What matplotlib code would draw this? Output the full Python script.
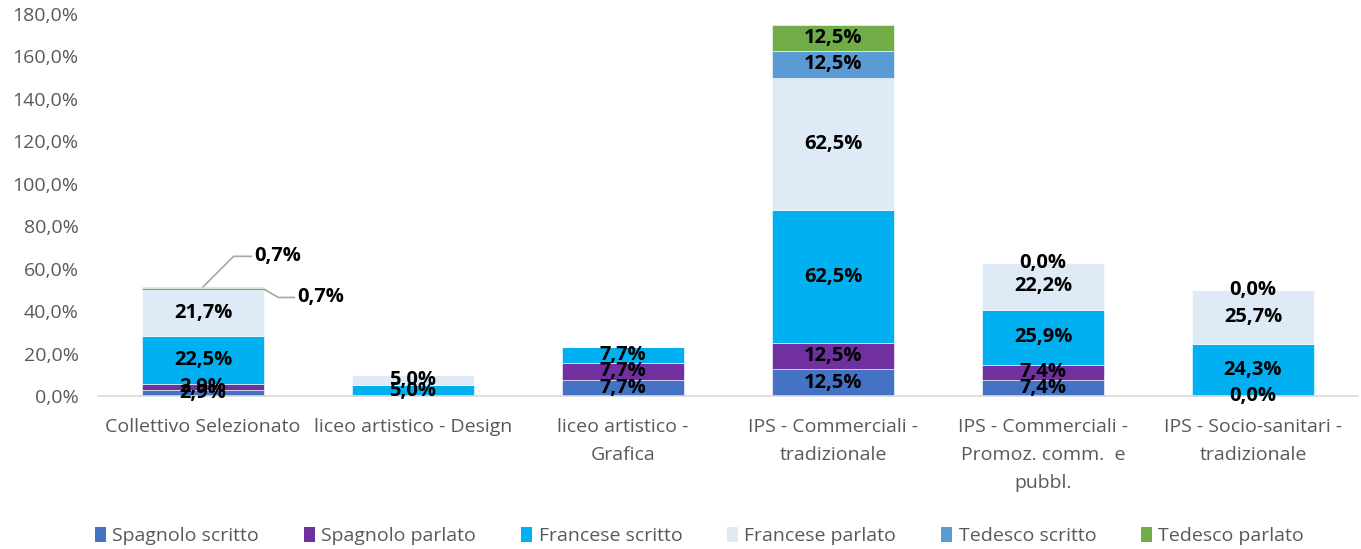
import matplotlib
matplotlib.use("Agg")
import matplotlib.pyplot as plt
from matplotlib.patches import Patch
import numpy as np

categories = [
    "Collettivo Selezionato",
    "liceo artistico - Design",
    "liceo artistico -\nGrafica",
    "IPS - Commerciali -\ntradizionale",
    "IPS - Commerciali -\nPromoz. comm.  e\npubbl.",
    "IPS - Socio-sanitari -\ntradizionale",
]
series_names = ["Spagnolo scritto", "Spagnolo parlato", "Francese scritto",
                "Francese parlato", "Tedesco scritto", "Tedesco parlato"]
spagnolo_scritto = [2.9, 0.0, 7.7, 12.5, 7.4, 0.0]
spagnolo_parlato = [2.9, 0.0, 7.7, 12.5, 7.4, 0.0]
francese_scritto = [22.5, 5.0, 7.7, 62.5, 25.9, 24.3]
francese_parlato = [21.7, 5.0, 0.0, 62.5, 22.2, 25.7]
tedesco_scritto = [0.7, 0.0, 0.0, 12.5, 0.0, 0.0]
tedesco_parlato = [0.7, 0.0, 0.0, 12.5, 0.0, 0.0]
values = [spagnolo_scritto, spagnolo_parlato, francese_scritto,
          francese_parlato, tedesco_scritto, tedesco_parlato]
# which data labels Excel shows (1 = shown)
show_labels = [
    [1, 0, 1, 1, 1, 1],
    [1, 0, 1, 1, 1, 0],
    [1, 1, 1, 1, 1, 1],
    [1, 1, 0, 1, 1, 1],
    [0, 0, 0, 1, 1, 1],
    [0, 0, 0, 1, 0, 0],
]
colors = ["#4472C4", "#7030A0", "#00B0F0", "#DEEBF7", "#5B9BD5", "#70AD47"]

plt.rcParams["font.family"] = ["Open Sans", "DejaVu Sans"]

fig = plt.figure(figsize=(13.61, 5.49), dpi=100)
ax = fig.add_axes([0.072, 0.2787, 0.9258, 0.6958])

x = np.arange(len(categories))
width = 0.58
lab_size = 14.5
bottom = np.zeros(len(categories))
for name, vals, col, show in zip(series_names, values, colors, show_labels):
    vals = np.array(vals)
    ax.bar(x, vals, width, bottom=bottom, color=col, label=name,
           edgecolor="white", linewidth=0.4)
    for i, v in enumerate(vals):
        if not show[i]:
            continue
        if i == 0 and name.startswith("Tedesco"):
            continue
        ax.text(x[i], bottom[i] + v / 2, f"{v:.1f}%".replace(".", ","),
                ha="center", va="center", fontsize=lab_size, fontweight="bold",
                color="black")
    bottom += vals

# leader-line labels on first bar (Tedesco)
top_scritto = sum(v[0] for v in values[:4]) + tedesco_scritto[0] / 2
top_parlato = sum(v[0] for v in values[:5]) + tedesco_parlato[0]
line_kw = dict(arrowstyle="-", color="#a6a6a6", lw=1.2, shrinkA=0, shrinkB=0,
               relpos=(0, 0.5), connectionstyle="angle,angleA=0,angleB=45,rad=0")
ax.annotate(f"{tedesco_parlato[0]:.1f}%".replace(".", ","),
            xy=(x[0], top_parlato), xytext=(37, 22), textcoords="offset points",
            ha="left", va="center", fontsize=lab_size, fontweight="bold",
            arrowprops=line_kw)
line_kw2 = dict(line_kw, connectionstyle="angle,angleA=0,angleB=-30,rad=0")
ax.annotate(f"{tedesco_scritto[0]:.1f}%".replace(".", ","),
            xy=(x[0] + width / 2, top_scritto), xytext=(24, -6),
            textcoords="offset points", ha="left", va="center", fontsize=lab_size,
            fontweight="bold", arrowprops=line_kw2)

ax.set_xlim(-0.5, len(categories) - 0.5)
ax.set_ylim(0, 180)
ax.set_yticks(np.arange(0, 181, 20))
ax.set_yticklabels([f"{t:.1f}%".replace(".", ",") for t in np.arange(0, 181, 20)])
ax.set_xticks(x)
ax.set_xticklabels(categories, linespacing=1.7)
ax.tick_params(axis="both", length=0, labelsize=14, labelcolor="#595959")
ax.tick_params(axis="x", pad=16)
ax.tick_params(axis="y", pad=14)
for s in ["top", "right", "left"]:
    ax.spines[s].set_visible(False)
ax.spines["bottom"].set_color("#d9d9d9")
ax.spines["bottom"].set_linewidth(1.2)

handles = [Patch(facecolor=c, label=n) for c, n in zip(colors, series_names)]
leg = fig.legend(handles=handles, loc="lower center", bbox_to_anchor=(0.514, -0.025),
                 ncol=6, frameon=False, fontsize=14, handlelength=0.55,
                 handleheight=0.8, handletextpad=0.35, columnspacing=2.3)
for t in leg.get_texts():
    t.set_color("#595959")

fig.savefig("out.png", dpi=100)
